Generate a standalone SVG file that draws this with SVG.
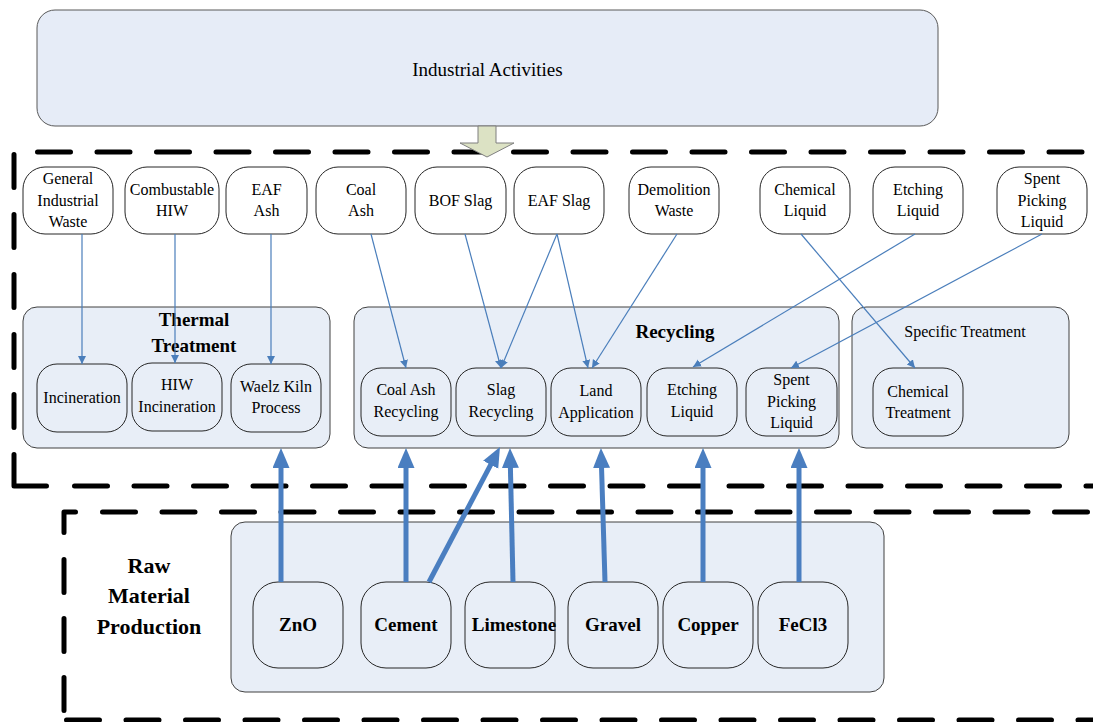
<svg xmlns="http://www.w3.org/2000/svg" width="1093" height="722" viewBox="0 0 1093 722">
<style>
text{font-family:"Liberation Serif","Times New Roman",serif;fill:#000;text-anchor:middle}
.t{font-size:16px}
.h{font-size:19px;font-weight:bold}
.rb{font-size:19px;font-weight:bold}
.lbl{font-size:22px;font-weight:bold}
.cont{fill:#E8EEF7;stroke:#404040;stroke-width:1}
.src{fill:#FFFFFF;stroke:#262626;stroke-width:1}
.inn{fill:#E8EEF7;stroke:#262626;stroke-width:1}
.dash{fill:none;stroke:#000;stroke-width:5;stroke-linecap:round;stroke-dasharray:33 26.5}
.solid{fill:none;stroke:#000;stroke-width:5;stroke-linecap:round;stroke-linejoin:round}
.thin{stroke:#4A7EBB;stroke-width:1.2;fill:none;marker-end:url(#ah)}
.thick{stroke:#4A7EC0;stroke-width:5;fill:none;marker-end:url(#ahb)}
</style>
<defs>
<marker id="ah" markerUnits="userSpaceOnUse" markerWidth="9" markerHeight="9" refX="8" refY="4" orient="auto">
<path d="M0,0 L8,4 L0,8 z" fill="#4A7EBB"/>
</marker>
<marker id="ahb" markerUnits="userSpaceOnUse" markerWidth="21" markerHeight="18" refX="5" refY="8.5" orient="auto">
<path d="M0,0 L20,8.5 L0,17 z" fill="#4A7EC0"/>
</marker>
</defs>
<rect width="1093" height="722" fill="#FFFFFF"/>

<g id="boundaries">
<path class="dash" d="M37.5 152 H1093"/>
<path class="dash" d="M14 154.5 V452" style="stroke-dasharray:33 27"/>
<path class="solid" d="M14 454.5 V486 H46.5"/>
<path class="dash" d="M74.5 486 H1093"/>
<path class="solid" d="M64 532.5 V512 H75.5"/>
<path class="dash" d="M102.5 512 H1093"/>
<path class="dash" d="M64 559.5 V716" style="stroke-dasharray:33 26"/>
<path class="dash" d="M66.5 720 H1093"/>
</g>

<g id="industrial-activities">
<rect x="37" y="10" width="901" height="116" rx="18" fill="#E6ECF7" stroke="#595959" stroke-width="1"/>
<text x="487.5" y="76" style="font-size:19px">Industrial Activities</text>
</g>

<g id="flow-arrow">
<polygon points="478,126 496,126 496,143 514,143 487,157 460,143 478,143" fill="#DCE2C4" stroke="#7F7F7F" stroke-width="1"/>
</g>

<g id="src-general-industrial-waste"><rect class="src" x="23" y="167" width="90" height="67" rx="22"/>
<text class="t" x="68" y="184">General</text><text class="t" x="68" y="206">Industrial</text><text class="t" x="68" y="227">Waste</text></g>
<g id="src-combustable-hiw"><rect class="src" x="125" y="167" width="94" height="67" rx="22"/>
<text class="t" x="172" y="195">Combustable</text><text class="t" x="172" y="216">HIW</text></g>
<g id="src-eaf-ash"><rect class="src" x="226" y="167" width="81" height="67" rx="22"/>
<text class="t" x="266.5" y="195">EAF</text><text class="t" x="266.5" y="216">Ash</text></g>
<g id="src-coal-ash"><rect class="src" x="316" y="167" width="90" height="67" rx="22"/>
<text class="t" x="361" y="195">Coal</text><text class="t" x="361" y="216">Ash</text></g>
<g id="src-bof-slag"><rect class="src" x="415" y="167" width="91" height="67" rx="22"/>
<text class="t" x="460.5" y="206">BOF Slag</text></g>
<g id="src-eaf-slag"><rect class="src" x="514" y="167" width="90" height="67" rx="22"/>
<text class="t" x="559" y="206">EAF Slag</text></g>
<g id="src-demolition-waste"><rect class="src" x="629" y="167" width="90" height="67" rx="22"/>
<text class="t" x="674" y="195">Demolition</text><text class="t" x="674" y="216">Waste</text></g>
<g id="src-chemical-liquid"><rect class="src" x="760" y="167" width="90" height="67" rx="22"/>
<text class="t" x="805" y="195">Chemical</text><text class="t" x="805" y="216">Liquid</text></g>
<g id="src-etching-liquid"><rect class="src" x="873" y="167" width="90" height="67" rx="22"/>
<text class="t" x="918" y="195">Etching</text><text class="t" x="918" y="216">Liquid</text></g>
<g id="src-spent-picking-liquid"><rect class="src" x="997" y="167" width="90" height="67" rx="22"/>
<text class="t" x="1042" y="184">Spent</text><text class="t" x="1042" y="206">Picking</text><text class="t" x="1042" y="227">Liquid</text></g>

<g id="thermal-treatment">
<rect class="cont" x="23" y="307" width="307" height="141" rx="14"/>
<text class="h" x="194" y="326">Thermal</text><text class="h" x="194" y="352">Treatment</text>
</g>
<g id="incineration"><rect class="inn" x="37" y="364" width="90" height="68" rx="20"/>
<text class="t" x="82" y="403">Incineration</text></g>
<g id="hiw-incineration"><rect class="inn" x="132" y="363" width="90" height="68" rx="20"/>
<text class="t" x="177" y="390">HIW</text><text class="t" x="177" y="412">Incineration</text></g>
<g id="waelz-kiln-process"><rect class="inn" x="231" y="364" width="90" height="68" rx="20"/>
<text class="t" x="276" y="392">Waelz Kiln</text><text class="t" x="276" y="413">Process</text></g>

<g id="recycling">
<rect class="cont" x="354" y="307" width="485" height="141" rx="14"/>
<text class="h" x="675" y="338">Recycling</text>
</g>
<g id="coal-ash-recycling"><rect class="inn" x="361" y="368" width="90" height="68" rx="20"/>
<text class="t" x="406" y="395">Coal Ash</text><text class="t" x="406" y="417">Recycling</text></g>
<g id="slag-recycling"><rect class="inn" x="456" y="368" width="90" height="68" rx="20"/>
<text class="t" x="501" y="395">Slag</text><text class="t" x="501" y="417">Recycling</text></g>
<g id="land-application"><rect class="inn" x="551" y="368" width="90" height="68" rx="20"/>
<text class="t" x="596" y="396">Land</text><text class="t" x="596" y="418">Application</text></g>
<g id="etching-liquid-rec"><rect class="inn" x="647" y="368" width="90" height="68" rx="20"/>
<text class="t" x="692" y="395">Etching</text><text class="t" x="692" y="417">Liquid</text></g>
<g id="spent-picking-liquid-rec"><rect class="inn" x="746" y="368" width="91" height="68" rx="20"/>
<text class="t" x="791.5" y="385">Spent</text><text class="t" x="791.5" y="407">Picking</text><text class="t" x="791.5" y="428">Liquid</text></g>

<g id="specific-treatment">
<rect class="cont" x="852" y="307" width="217" height="141" rx="14"/>
<text class="t" x="965" y="337">Specific Treatment</text>
</g>
<g id="chemical-treatment"><rect class="inn" x="873" y="368" width="90" height="68" rx="20"/>
<text class="t" x="918" y="397">Chemical</text><text class="t" x="918" y="418">Treatment</text></g>

<g id="raw-material-production">
<rect class="cont" x="231" y="522" width="653" height="170" rx="14"/>
<text class="lbl" x="149" y="573">Raw</text><text class="lbl" x="149" y="603">Material</text><text class="lbl" x="149" y="634">Production</text>
</g>
<g id="zno"><rect class="inn" x="253" y="582" width="90" height="86" rx="25"/><text class="rb" x="298" y="631">ZnO</text></g>
<g id="cement"><rect class="inn" x="361" y="582" width="90" height="86" rx="25"/><text class="rb" x="406" y="631">Cement</text></g>
<g id="limestone"><rect class="inn" x="465" y="582" width="90" height="86" rx="25"/><text class="rb" x="514" y="631">Limestone</text></g>
<g id="gravel"><rect class="inn" x="568" y="582" width="90" height="86" rx="25"/><text class="rb" x="613" y="631">Gravel</text></g>
<g id="copper"><rect class="inn" x="663" y="582" width="90" height="86" rx="25"/><text class="rb" x="708" y="631">Copper</text></g>
<g id="fecl3"><rect class="inn" x="758" y="582" width="90" height="86" rx="25"/><text class="rb" x="803" y="631">FeCl3</text></g>

<g id="connectors">
<line class="thin" x1="82" y1="234" x2="82" y2="364"/>
<line class="thin" x1="175" y1="234" x2="175" y2="363"/>
<line class="thin" x1="271" y1="234" x2="271" y2="364"/>
<line class="thin" x1="371" y1="234" x2="406" y2="368"/>
<line class="thin" x1="465" y1="234" x2="501" y2="368"/>
<line class="thin" x1="557" y1="234" x2="501" y2="368"/>
<line class="thin" x1="557" y1="234" x2="588" y2="368"/>
<line class="thin" x1="677" y1="234" x2="592" y2="368"/>
<line class="thin" x1="801" y1="234" x2="915" y2="368"/>
<line class="thin" x1="915" y1="234" x2="693" y2="367"/>
<line class="thin" x1="1042" y1="234" x2="791" y2="368"/>
<line class="thick" x1="281" y1="582" x2="281" y2="463"/>
<line class="thick" x1="406" y1="582" x2="406" y2="463"/>
<line class="thick" x1="429" y1="582" x2="493" y2="460.3"/>
<line class="thick" x1="513" y1="582" x2="510.3" y2="463"/>
<line class="thick" x1="605" y1="582" x2="601.4" y2="463"/>
<line class="thick" x1="703" y1="582" x2="703" y2="463"/>
<line class="thick" x1="799" y1="582" x2="799" y2="463"/>
</g>
</svg>
